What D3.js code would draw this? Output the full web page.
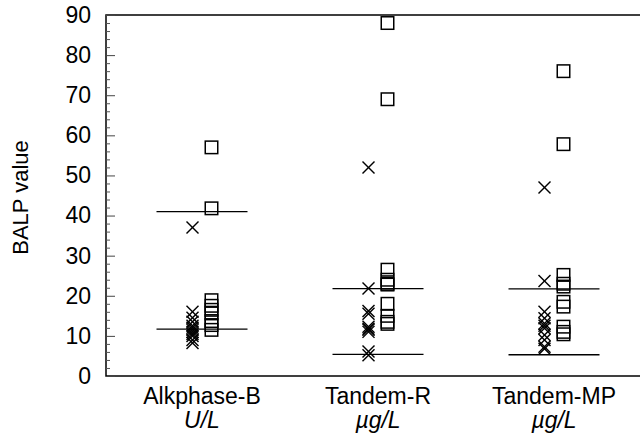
<!DOCTYPE html>
<html>
<head>
<meta charset="utf-8">
<script src="https://cdn.jsdelivr.net/npm/d3@7"></script>
<style>
  body { margin: 0; background: #fff; }
  text { font-family: "Liberation Sans", Arial, Helvetica, sans-serif; fill: #000; }
</style>
</head>
<body>
<div id="chart"></div>
<script>
// categories and their units
var categories = ["Alkphase-B", "Tandem-R", "Tandem-MP"];
var units = ["U/L", "\u00b5g/L", "\u00b5g/L"];

// X markers (left column of each group)
var crossValues = [
  [37, 16, 14.5, 13.5, 12.5, 12, 11.5, 11, 10.5, 10, 9, 8.2],
  [52, 21.8, 16.2, 15.5, 12.3, 11.8, 11.5, 11, 6.1, 5.2],
  [47, 23.7, 16, 14.4, 13.1, 12.5, 11.9, 10.2, 9, 7.3, 6.8]
];

// open squares (right column of each group)
var squareValues = [
  [57, 41.8, 18.9, 17.5, 16.5, 15.6, 13.7, 12.7, 11.5],
  [88, 69, 26.5, 24, 23, 22.8, 18, 15, 13.5, 13],
  [76, 57.8, 25.2, 23, 22.3, 18.5, 17.3, 12.3, 11, 10.4]
];

// horizontal reference lines
var upperLines = [41, 21.8, 21.7];
var lowerLines = [11.7, 5.4, 5.3];

var yTicks = [0, 10, 20, 30, 40, 50, 60, 70, 80, 90];
var yMinorTicks = d3.range(0, 91, 2);

var W = 640, H = 437;
var margin = {top: 15, right: -10, bottom: 61, left: 106};

var svg = d3.select("#chart").append("svg")
    .attr("width", W)
    .attr("height", H);

var x = d3.scalePoint().domain(categories).range([202, 554]);
var y = d3.scaleLinear().domain([0, 90]).range([H - margin.bottom, margin.top]);

var markOffset = 9.5, halfLine = 45.5, cs = 6, sq = 12.5;

// frame (top + bottom + left); right side runs off the picture
svg.append("rect")
    .attr("x", margin.left)
    .attr("y", y(90))
    .attr("width", W - margin.left + 10)
    .attr("height", y(0) - y(90))
    .attr("fill", "none")
    .attr("stroke", "#000")
    .attr("stroke-width", 1.5);

// minor ticks pointing inward
svg.append("g")
    .attr("transform", `translate(${margin.left},0)`)
    .call(d3.axisRight(y).tickValues(yMinorTicks.filter(function(d){ return d % 10 != 0; })).tickSize(4).tickFormat(""))
    .call(function(g){ g.select(".domain").remove(); })
    .selectAll("line").attr("stroke", "#555");

// major ticks pointing inward
svg.append("g")
    .attr("transform", `translate(${margin.left},0)`)
    .call(d3.axisRight(y).tickValues(yTicks).tickSize(9).tickFormat(""))
    .call(function(g){ g.select(".domain").remove(); })
    .selectAll("line").attr("stroke", "#444");

// tick labels
var yAxis = svg.append("g")
    .attr("transform", `translate(${margin.left},0)`)
    .call(d3.axisLeft(y).tickValues(yTicks).tickSize(0).tickPadding(15));
yAxis.select(".domain").remove();
yAxis.selectAll("text")
    .style("font-size", "23px")
    .style("font-family", "Liberation Sans, Arial, sans-serif");

// y label
svg.append("text")
    .attr("transform", "translate(28," + ((y(0) + y(90)) / 2 + 2) + ") rotate(-90)")
    .style("text-anchor", "middle")
    .style("font-size", "22px")
    .text("BALP value");

// category labels
categories.forEach(function(c, i) {
    svg.append("text")
        .attr("x", x(c))
        .attr("y", 404)
        .style("text-anchor", "middle")
        .style("font-size", "23px")
        .text(c);
    svg.append("text")
        .attr("x", x(c))
        .attr("y", 428)
        .style("text-anchor", "middle")
        .style("font-size", "23px")
        .style("font-style", "italic")
        .text(units[i]);
});

// reference lines
var lines = svg.append("g").attr("stroke", "#000").attr("stroke-width", 1.3);
categories.forEach(function(c, i) {
    [upperLines[i], lowerLines[i]].forEach(function(v) {
        lines.append("line")
            .attr("x1", x(c) - halfLine)
            .attr("x2", x(c) + halfLine)
            .attr("y1", y(v))
            .attr("y2", y(v));
    });
});

// crosses
categories.forEach(function(c, i) {
    var g = svg.append("g").attr("stroke", "#000").attr("stroke-width", 1.4);
    var cx = x(c) - markOffset;
    g.selectAll(".xa")
        .data(crossValues[i])
        .join("line")
        .attr("x1", cx - cs).attr("x2", cx + cs)
        .attr("y1", function(d){ return y(d) - cs; })
        .attr("y2", function(d){ return y(d) + cs; });
    g.selectAll(".xb")
        .data(crossValues[i])
        .join("line")
        .attr("x1", cx - cs).attr("x2", cx + cs)
        .attr("y1", function(d){ return y(d) + cs; })
        .attr("y2", function(d){ return y(d) - cs; });
});

// squares
categories.forEach(function(c, i) {
    var sx = x(c) + markOffset;
    svg.append("g")
        .selectAll("rect")
        .data(squareValues[i])
        .join("rect")
        .attr("x", sx - sq / 2)
        .attr("y", function(d){ return y(d) - sq / 2; })
        .attr("width", sq)
        .attr("height", sq)
        .attr("fill", "none")
        .attr("stroke", "#000")
        .attr("stroke-width", 1.5);
});
</script>
</body>
</html>
